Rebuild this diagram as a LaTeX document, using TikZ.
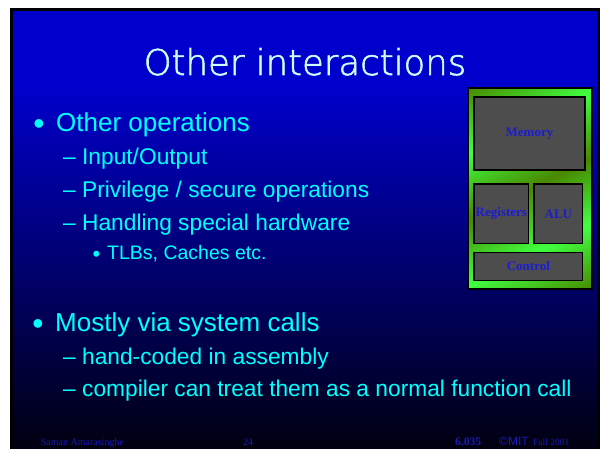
\documentclass[tikz,border=0pt]{standalone}
\usepackage{fontspec}
\setmainfont{Liberation Serif}
\newfontfamily\arialfont{Liberation Sans}
\IfFontExistsTF{DejaVu Sans ExtraLight}
  {\newfontfamily\headfont{DejaVu Sans ExtraLight}[FakeBold=1.6]}
  {\newfontfamily\headfont{DejaVu Sans}}

\definecolor{slidetop}{RGB}{0,0,204}
\definecolor{slidebot}{RGB}{0,0,16}
\definecolor{headcol}{RGB}{204,255,255}
\definecolor{bodycol}{RGB}{0,255,255}
\definecolor{footcol}{RGB}{26,26,180}
\definecolor{gdark}{RGB}{72,136,0}
\definecolor{glight}{RGB}{64,255,64}
\definecolor{unitfill}{RGB}{77,77,77}
\definecolor{unittext}{RGB}{28,28,210}

% slide background: solid blue on top, fading to near black at the bottom
\pgfdeclareverticalshading{slidebg}{100bp}{color(0bp)=(slidebot); color(25bp)=(slidebot);
  color(66.4bp)=(slidetop); color(75bp)=(slidetop); color(100bp)=(slidetop)}
% banded green fill of the processor block
\pgfdeclarehorizontalshading{greenbands}{100bp}{color(0bp)=(gdark); color(25bp)=(gdark);
  color(37.5bp)=(glight); color(50bp)=(gdark); color(62.5bp)=(glight);
  color(75bp)=(gdark); color(100bp)=(gdark)}

\tikzset{
  txt/.style={anchor=base west, inner sep=0pt, text=bodycol},
  lvlone/.style={txt, font=\arialfont\fontsize{26}{30}\selectfont},
  lvltwo/.style={txt, font=\arialfont\fontsize{22.75}{26}\selectfont},
  lvlthree/.style={txt, font=\arialfont\fontsize{19.5}{23}\selectfont},
  dot/.style={anchor=center, inner sep=0pt, text=bodycol, font=\arialfont\fontsize{#1}{#1}\selectfont},
  foot/.style={anchor=base west, inner sep=0pt, text=footcol},
  unit/.style={draw=black, line width=1.3pt, fill=unitfill, inner sep=0pt,
    text=unittext, font=\bfseries\fontsize{13}{15}\selectfont},
}

\begin{document}
\begin{tikzpicture}[x=1pt, y=-1pt]
\useasboundingbox (0,0) rectangle (602,449);
\fill[white] (0,0) rectangle (602,449);

% slide face and its frame
\shade[shading=slidebg] (11.5,9.5) rectangle (598.5,449);
\draw[black, line width=3pt] (11.5,449) -- (11.5,9.5) -- (598.5,9.5) -- (598.5,449);

% title
\node[anchor=base, inner sep=0pt, text=headcol, font=\headfont\fontsize{35.5}{40}\selectfont]
  (title) at (305,75) {Other interactions};

% first group of bullets
\node[dot=32] (b1) at (39,127) {•};
\node[lvlone] (t1) at (56,131.5) {Other operations};
\node[lvltwo] (t11) at (63,165) {– Input/Output};
\node[lvltwo] (t12) at (63,197.5) {– Privilege / secure operations};
\node[lvltwo] (t13) at (63,230) {– Handling special hardware};
\node[dot=22] (b131) at (96.5,256.5) {•};
\node[lvlthree] (t131) at (107,259) {TLBs, Caches etc.};

% second group of bullets
\node[dot=32] (b2) at (38,327) {•};
\node[lvlone] (t2) at (55,331.5) {Mostly via system calls};
\node[lvltwo] (t21) at (63,364) {– hand-coded in assembly};
\node[lvltwo] (t22) at (63,396) {– compiler can treat them as a normal function call};

% processor block
\begin{scope}
  \clip (468,88) rectangle (592,289);
  \shade[shading=greenbands, shading angle=-63.4] (412,70.5) rectangle (648,306.5);
\end{scope}
\node[draw=black, line width=1.3pt, inner sep=0pt, minimum width=124pt, minimum height=201pt]
  (cpu) at (530,188.5) {};
\node[unit, minimum width=111pt, minimum height=73pt] (memory) at (529.5,133.5) {Memory};
\node[unit, minimum width=54.7pt, minimum height=59.7pt] (registers) at (501.35,213.85) {Registers};
\node[unit, minimum width=48.7pt, minimum height=59.7pt] (alu) at (558.35,213.85) {ALU};
\node[unit, minimum width=108.7pt, minimum height=28.4pt] (control) at (528.35,266.5) {Control};

% footer
\node[foot, font=\fontsize{10}{12}\selectfont] (author) at (40.7,445.5) {Saman Amarasinghe};
\node[foot, font=\fontsize{10}{12}\selectfont] (page) at (243,445.5) {24};
\node[foot, font=\bfseries\fontsize{11.5}{13}\selectfont] (course) at (455,445.5) {6.035};
\node[foot, font=\arialfont\fontsize{12}{14}\selectfont] (copy) at (499,445.5) {©MIT};
\node[foot, font=\fontsize{9.5}{12}\selectfont] (term) at (533,445.5) {Fall 2001};
\end{tikzpicture}
\end{document}
